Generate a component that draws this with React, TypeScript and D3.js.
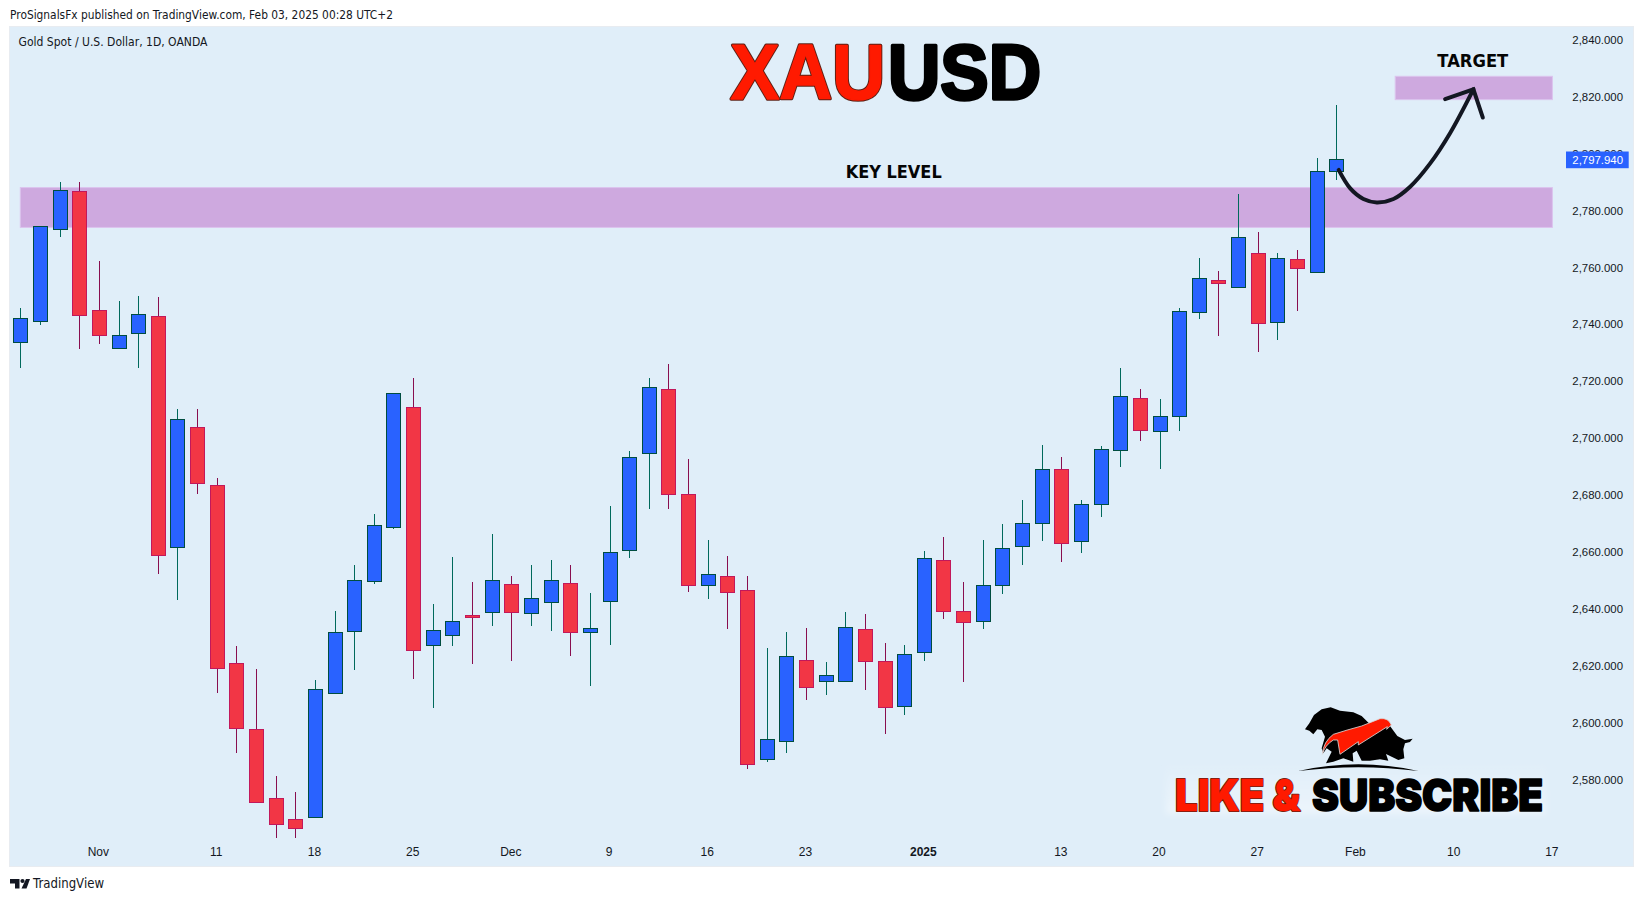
import React, { useRef, useEffect } from "react";
import * as d3 from "d3";

const opens = [2733.5, 2740.8, 2773.1, 2786.6, 2744.8, 2731.3, 2736.9, 2742.7, 2661.7, 2703.7, 2683.3, 2620.7, 2597.6, 2573.3, 2565.9, 2566.5, 2610.1, 2631.9, 2649.4, 2668.8, 2710.7, 2626.9, 2630.5, 2637.6, 2638.5, 2648.5, 2638.5, 2642.1, 2648.8, 2631.5, 2642.4, 2660.6, 2694.4, 2717.3, 2680.1, 2648.3, 2651.6, 2646.4, 2586.9, 2593.5, 2621.8, 2614.3, 2614.6, 2632.7, 2621.4, 2605.5, 2624.5, 2657.2, 2639.3, 2635.3, 2648.0, 2661.7, 2669.8, 2688.9, 2663.8, 2676.5, 2695.5, 2713.9, 2702.5, 2707.4, 2744.0, 2755.3, 2753.1, 2764.8, 2740.5, 2762.7, 2758.0, 2793.8];
const closes = [2742.0, 2774.3, 2786.9, 2743.2, 2735.9, 2736.0, 2743.4, 2658.6, 2706.5, 2683.9, 2618.9, 2597.8, 2572.1, 2564.1, 2562.7, 2611.6, 2631.6, 2649.9, 2669.2, 2715.9, 2625.2, 2632.3, 2635.5, 2637.3, 2649.9, 2638.5, 2643.6, 2649.9, 2631.5, 2633.0, 2659.7, 2693.4, 2717.7, 2680.3, 2648.0, 2652.3, 2645.9, 2585.1, 2594.0, 2623.2, 2612.2, 2616.5, 2633.4, 2621.3, 2605.1, 2623.9, 2657.6, 2639.2, 2635.3, 2648.1, 2661.1, 2669.9, 2688.9, 2662.8, 2676.9, 2695.9, 2714.6, 2702.5, 2707.6, 2744.4, 2756.0, 2754.2, 2770.5, 2740.1, 2763.1, 2759.4, 2793.6, 2797.94];
const highs = [2745.5, 2774.3, 2789.9, 2789.9, 2762.1, 2748.0, 2749.8, 2749.4, 2710.1, 2710.1, 2685.7, 2626.8, 2618.8, 2581.2, 2575.5, 2614.9, 2639.1, 2655.3, 2673.2, 2715.9, 2721.0, 2641.6, 2658.1, 2649.3, 2666.2, 2651.4, 2655.3, 2657.0, 2655.3, 2645.4, 2676.0, 2695.3, 2721.0, 2725.9, 2692.5, 2664.0, 2658.4, 2651.4, 2626.1, 2631.7, 2633.1, 2621.2, 2638.7, 2638.0, 2627.9, 2627.1, 2660.2, 2665.1, 2649.3, 2664.0, 2669.7, 2678.1, 2697.4, 2693.2, 2678.1, 2697.1, 2724.5, 2717.2, 2713.7, 2745.6, 2763.2, 2758.6, 2785.7, 2772.3, 2764.8, 2766.0, 2798.2, 2816.9];
const lows = [2724.6, 2739.6, 2770.5, 2731.2, 2733.0, 2731.3, 2724.6, 2652.1, 2643.0, 2680.4, 2610.4, 2589.4, 2572.1, 2559.5, 2559.5, 2566.5, 2610.1, 2618.4, 2648.6, 2667.9, 2615.2, 2605.0, 2626.8, 2620.5, 2633.9, 2621.6, 2633.9, 2632.1, 2623.4, 2612.9, 2627.1, 2657.7, 2674.9, 2674.9, 2645.8, 2643.3, 2632.8, 2583.6, 2586.0, 2589.2, 2607.8, 2609.6, 2614.6, 2611.3, 2595.9, 2602.6, 2621.5, 2636.3, 2614.1, 2632.8, 2645.1, 2655.3, 2663.7, 2656.3, 2659.5, 2672.0, 2689.8, 2698.9, 2689.1, 2702.4, 2741.8, 2735.8, 2753.1, 2730.2, 2734.4, 2744.6, 2758.0, 2790.6];

const priceTicks = [2580, 2600, 2620, 2640, 2660, 2680, 2700, 2720, 2740, 2760, 2780, 2800, 2820, 2840];
const timeLabels = ["Nov", "11", "18", "25", "Dec", "9", "16", "23", "2025", "13", "20", "27", "Feb", "10", "17"];
const timeIndexes = [4, 10, 15, 20, 25, 30, 35, 40, 46, 53, 58, 63, 68, 73, 78];
const lastPrice = 2797.94;

// drawings, in bar index / price
const keyLevelBars = [0, 78];
const keyLevelPrices = [2773.9, 2787.9];
const targetBars = [70, 78];
const targetPrices = [2818.8, 2827.0];
const arrowBars = [67.12, 67.71, 68.38, 69.06, 69.91, 70.76, 71.78, 72.79, 73.98];
const arrowPrices = [2794.1, 2787.6, 2783.9, 2782.7, 2783.9, 2788.2, 2796.4, 2807.0, 2822.4];
const headBars = [72.54, 73.98, 74.46];
const headPrices = [2819.0, 2822.4, 2812.5];

const WIDTH = 1643;
const HEIGHT = 901;
const LABEL_FONT = "'Liberation Sans', Arial, sans-serif";
const crisp = (v: number) => Math.round(v) + 0.5;

const App: React.FC = () => {
  const svgRef = useRef<SVGSVGElement | null>(null);

  useEffect(() => {
    const svg = d3.select(svgRef.current);
    svg.selectAll("*").remove();

    const x = d3.scaleLinear().domain([0, 67]).range([20.3, 1336.3]);
    const y = d3.scaleLinear().domain([2580, 2840]).range([779.3, 39.3]);

    svg.append("rect").attr("width", WIDTH).attr("height", HEIGHT).attr("fill", "#fff");
    svg
      .append("rect")
      .attr("x", 9.5)
      .attr("y", 26.5)
      .attr("width", 1624)
      .attr("height", 840)
      .attr("fill", "#e0eef9")
      .attr("stroke", "#e8ecf1");

    const text = (
      str: string,
      px: number,
      py: number,
      size: number,
      fill = "#131722",
      anchor = "start",
      weight: string | number = "normal",
      family = LABEL_FONT
    ) =>
      svg
        .append("text")
        .attr("x", px)
        .attr("y", py)
        .attr("font-size", size)
        .attr("font-family", family)
        .attr("font-weight", weight)
        .attr("fill", fill)
        .attr("text-anchor", anchor)
        .attr("dominant-baseline", "middle")
        .text(str);

    // Header
    text("ProSignalsFx published on TradingView.com, Feb 03, 2025 00:28 UTC+2", 10, 15, 12.5, "#131722", "start", "normal", "'DejaVu Sans'")
      .attr("textLength", 383)
      .attr("lengthAdjust", "spacingAndGlyphs");
    text("Gold Spot / U.S. Dollar, 1D, OANDA", 18.5, 42, 12, "#131722", "start", "normal", "'DejaVu Sans'")
      .attr("textLength", 189)
      .attr("lengthAdjust", "spacingAndGlyphs");

    // Zones
    const zone = (bars: number[], prices: number[]) =>
      svg
        .append("rect")
        .attr("x", x(bars[0]))
        .attr("y", y(prices[1]))
        .attr("width", x(bars[1]) - x(bars[0]))
        .attr("height", y(prices[0]) - y(prices[1]))
        .attr("fill", "#cea9df")
        .attr("stroke", "#dcc3ee");
    zone(keyLevelBars, keyLevelPrices);
    zone(targetBars, targetPrices);

    // Candles
    const candles = d3.range(opens.length).map((i) => ({
      i,
      open: opens[i],
      close: closes[i],
      high: highs[i],
      low: lows[i],
      up: closes[i] >= opens[i],
    }));
    const g = svg.append("g");
    g.selectAll("line")
      .data(candles)
      .enter()
      .append("line")
      .attr("x1", (d) => crisp(x(d.i)))
      .attr("x2", (d) => crisp(x(d.i)))
      .attr("y1", (d) => Math.round(y(d.high)))
      .attr("y2", (d) => Math.round(y(d.low)))
      .attr("stroke", (d) => (d.up ? "#00695c" : "#880e4f"))
      .attr("stroke-width", 1);
    g.selectAll("rect")
      .data(candles)
      .enter()
      .append("rect")
      .attr("x", (d) => crisp(x(d.i)) - 7)
      .attr("width", 14)
      .attr("y", (d) => crisp(y(Math.max(d.open, d.close))))
      .attr("height", (d) => Math.max(2, Math.round(Math.abs(y(d.open) - y(d.close)))))
      .attr("fill", (d) => (d.up ? "#2962ff" : "#f23645"))
      .attr("stroke", (d) => (d.up ? "#004d40" : "#c2185b"))
      .attr("stroke-width", 1);

    // Arrow
    const curve = d3
      .line<number>()
      .x((b) => x(b))
      .y((_, i) => y(arrowPrices[i]))
      .curve(d3.curveCatmullRom);
    svg
      .append("path")
      .attr("d", curve(arrowBars))
      .attr("fill", "none")
      .attr("stroke", "#131722")
      .attr("stroke-width", 4)
      .attr("stroke-linecap", "round");
    const head = d3
      .line<number>()
      .x((b) => x(b))
      .y((_, i) => y(headPrices[i]));
    svg
      .append("path")
      .attr("d", head(headBars))
      .attr("fill", "none")
      .attr("stroke", "#131722")
      .attr("stroke-width", 4)
      .attr("stroke-linecap", "round")
      .attr("stroke-linejoin", "miter");

    // Price axis
    priceTicks.forEach((p) => {
      text(d3.format(",.3f")(p), 1623, y(p) + 1.5, 11.4, "#131722", "end");
    });
    svg
      .append("rect")
      .attr("x", 1566)
      .attr("y", y(lastPrice) - 7.5)
      .attr("width", 62.7)
      .attr("height", 16.7)
      .attr("fill", "#2962ff");
    text(d3.format(",.3f")(lastPrice), 1623, y(lastPrice) + 1.5, 11.4, "#fff", "end");

    // Time axis
    timeLabels.forEach((label, i) => {
      text(label, x(timeIndexes[i]) - 0.5, 853, 12, "#131722", "middle", label === "2025" ? "bold" : "normal");
    });

    // Chart notes
    text("KEY LEVEL", 893.7, 173, 18.5, "#050505", "middle", 700, "'DejaVu Sans'")
      .attr("textLength", 96)
      .attr("lengthAdjust", "spacingAndGlyphs");
    text("TARGET", 1472.8, 62, 18.5, "#050505", "middle", 700, "'DejaVu Sans'")
      .attr("textLength", 71)
      .attr("lengthAdjust", "spacingAndGlyphs");

    // Big title, dark outline under the red letters
    const big = (str: string, px: number, len: number, fill: string, stroke: string, sw: number) =>
      svg
        .append("text")
        .attr("x", px)
        .attr("y", 98.5)
        .attr("font-size", 77)
        .attr("font-family", LABEL_FONT)
        .attr("font-weight", 700)
        .attr("fill", fill)
        .attr("stroke", stroke)
        .attr("stroke-width", sw)
        .attr("stroke-linejoin", "round")
        .attr("textLength", len)
        .attr("lengthAdjust", "spacingAndGlyphs")
        .text(str);
    big("XAU", 730.5, 154.5, "#5a1f14", "#5a1f14", 3.6);
    big("XAU", 730.5, 154.5, "#ff1a00", "#ff1a00", 1.6);
    big("USD", 888, 153, "#000", "#000", 3.4);

    // Like & subscribe
    const defs = svg.append("defs");
    const glow = defs.append("linearGradient").attr("id", "glow").attr("x1", 0).attr("x2", 0).attr("y1", 0).attr("y2", 1);
    glow.append("stop").attr("offset", "0%").attr("stop-color", "#fff").attr("stop-opacity", 0);
    glow.append("stop").attr("offset", "100%").attr("stop-color", "#fff").attr("stop-opacity", 0.4);
    const blur = defs.append("filter").attr("id", "soft");
    blur.append("feGaussianBlur").attr("stdDeviation", 3);
    svg
      .append("rect")
      .attr("x", 1166)
      .attr("y", 762)
      .attr("width", 380)
      .attr("height", 52)
      .attr("fill", "url(#glow)")
      .attr("filter", "url(#soft)");

    const sub = (str: string, px: number, len: number, fill: string, stroke: string, sw: number) =>
      svg
        .append("text")
        .attr("x", px)
        .attr("y", 810.5)
        .attr("font-size", 44)
        .attr("font-family", "Inter, Roboto, sans-serif")
        .attr("font-weight", 900)
        .attr("fill", fill)
        .attr("stroke", stroke)
        .attr("stroke-width", sw)
        .attr("stroke-linejoin", "round")
        .attr("textLength", len)
        .attr("lengthAdjust", "spacingAndGlyphs")
        .text(str);
    sub("LIKE &", 1175, 125, "#5a1f14", "#5a1f14", 2);
    sub("LIKE &", 1175, 125, "#ff1a00", "#ff1a00", 0.4);
    sub("SUBSCRIBE", 1312, 231, "#000", "#000", 1.6);

    // Bull and bear logo
    const logo = svg.append("g").attr("transform", "translate(1290,690) scale(0.3333)");
    logo
      .append("path")
      .attr("d", "M45,118 L58,100 L72,75 L95,58 L122,52 L150,62 L190,67 L215,78 L240,103 L300,108 L322,138 L345,150 L368,146 L360,156 L345,160 L340,178 L343,205 L325,210 L305,200 L288,192 L295,212 L270,208 L240,212 L215,212 L200,182 L188,190 L190,215 L160,205 L130,215 L108,220 L125,185 L110,175 L100,190 L95,175 L105,140 L95,120 L82,118 L70,133 L58,122 Z")
      .attr("fill", "#000");
    logo
      .append("path")
      .attr("d", "M97,193 Q100,155 130,133 Q170,120 215,108 L270,86 Q295,83 304,105 L290,118 L292,110 L205,165 L205,155 L150,193 L143,150 L130,150 Q105,165 97,193 Z")
      .attr("fill", "#ff1a00")
      .attr("stroke", "#d9d9d9")
      .attr("stroke-width", 2.5);
    logo.append("path").attr("d", "M25,243 Q205,203 385,243 Q205,220 25,243 Z").attr("fill", "#000");

    // Footer
    const tv = svg.append("g").attr("fill", "#131722");
    tv.append("path").attr("d", "M10,879 H19.5 V888.5 H15 V883.5 H10 Z");
    tv.append("circle").attr("cx", 22.5).attr("cy", 881).attr("r", 2.1);
    tv.append("path").attr("d", "M26,879 H30 L26.5,888.5 H21.5 Z");
    text("TradingView", 33, 883.5, 13.5, "#131722", "start", "normal", "'DejaVu Sans'")
      .attr("textLength", 71)
      .attr("lengthAdjust", "spacingAndGlyphs");
  }, []);

  return (
    <svg
      ref={svgRef}
      width={WIDTH}
      height={HEIGHT}
      style={{ position: "absolute", left: 0, top: 0, display: "block" }}
    />
  );
};

export default App;
